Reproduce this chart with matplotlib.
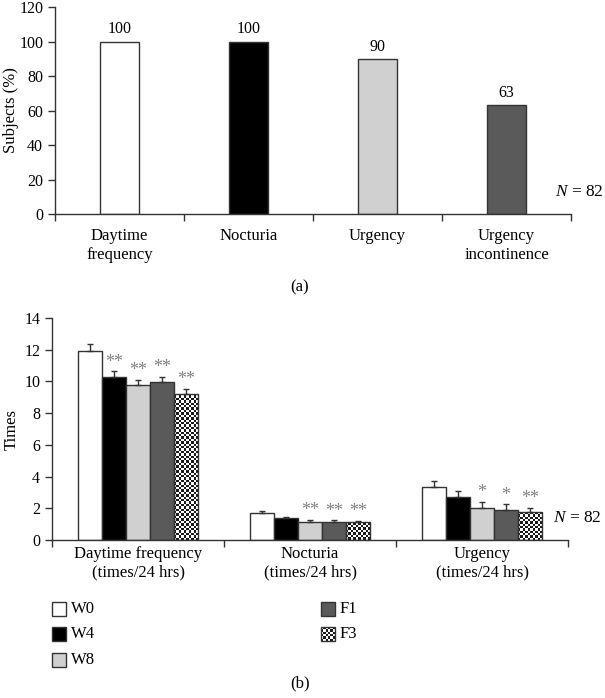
import numpy as np
import matplotlib
matplotlib.use('Agg')
from matplotlib import pyplot as plt
from matplotlib.patches import Rectangle
from matplotlib.colors import ListedColormap

plt.rcParams['font.family'] = ['Liberation Serif', 'DejaVu Serif']
plt.rcParams['mathtext.fontset'] = 'custom'
plt.rcParams['mathtext.rm'] = 'Liberation Serif'
plt.rcParams['mathtext.it'] = 'Liberation Serif:italic'

# (a) share of subjects with each symptom
symptoms = ['Daytime\nfrequency', 'Nocturia', 'Urgency', 'Urgency\nincontinence']
subjects_pct = [100, 100, 90, 63]
symptom_colors = ['white', 'black', '#d0d0d0', '#5a5a5a']

# (b) episodes per 24 hrs at each visit
groups = ['Daytime frequency\n(times/24 hrs)', 'Nocturia\n(times/24 hrs)', 'Urgency\n(times/24 hrs)']
visits = ['W0', 'W4', 'W8', 'F1', 'F3']
w0 = [11.95, 1.68, 3.36]
w4 = [10.27, 1.36, 2.72]
w8 = [9.78, 1.15, 2.03]
f1 = [9.98, 1.15, 1.91]
f3 = [9.22, 1.13, 1.75]
w0_err = [0.42, 0.12, 0.38]
w4_err = [0.36, 0.08, 0.37]
w8_err = [0.30, 0.12, 0.37]
f1_err = [0.33, 0.08, 0.34]
f3_err = [0.30, 0.07, 0.27]
w0_sig = ['', '', '']
w4_sig = ['**', '', '']
w8_sig = ['**', '**', '*']
f1_sig = ['**', '**', '*']
f3_sig = ['**', '**', '**']
visit_colors = ['white', 'black', '#d0d0d0', '#5a5a5a', 'checker']

W, H = 605, 698
EDGE = '#333333'
FS = 12
checker_cmap = ListedColormap(['white', '#1a1a1a'])

fig = plt.figure(figsize=(W / 100, H / 100), dpi=100)


def px_axes(l, t, r, b, **kw):
    return fig.add_axes([l / W, 1 - b / H, (r - l) / W, (b - t) / H], **kw)


def checker(ax, x0, x1, y0, y1, cell_px, clip=None):
    # checkerboard fill, sized from the on-screen size of the box
    p0 = ax.transData.transform((x0, y0))
    p1 = ax.transData.transform((x1, y1))
    nx = max(1, int(round(abs(p1[0] - p0[0]) / cell_px)))
    ny = max(1, int(round(abs(p1[1] - p0[1]) / cell_px)))
    board = np.indices((ny, nx)).sum(0) % 2
    im = ax.imshow(board, extent=(x0, x1, y0, y1), cmap=checker_cmap,
                   interpolation='nearest', aspect='auto', zorder=1.5)
    if clip is not None:
        im.set_clip_path(clip)
    return im


def style_axes(ax):
    for s in ['top', 'right']:
        ax.spines[s].set_visible(False)
    for s in ['left', 'bottom']:
        ax.spines[s].set_color(EDGE)
        ax.spines[s].set_linewidth(1)
    ax.tick_params(axis='both', which='major', length=5, width=1,
                   color=EDGE, labelsize=11.5)


"""
(a)
"""
ax1 = px_axes(55, 7, 571, 214)
x1 = np.arange(len(symptoms))
bars = ax1.bar(x1, subjects_pct, 0.31, color=symptom_colors,
               edgecolor=EDGE, linewidth=1)
ax1.bar_label(bars, padding=3, fontsize=11.5)
ax1.set_xlim(-0.5, len(symptoms) - 0.5)
ax1.set_ylim(0, 120)
ax1.set_yticks(np.arange(0, 121, 20))
ax1.set_xticks(np.arange(-0.5, len(symptoms), 1.0))
ax1.set_xticklabels([])
ax1.set_xticks(x1, symptoms, minor=True)
style_axes(ax1)
ax1.tick_params(axis='x', which='minor', length=0, pad=10, labelsize=FS)
for lab in ax1.get_xticklabels(minor=True):
    lab.set_linespacing(1.25)
ax1.set_ylabel('Subjects (%)', fontsize=FS)
ax1.yaxis.set_label_coords(-0.07, 0.5)

"""
(b)
"""
ax2 = px_axes(52, 318, 568, 540)
x2 = np.arange(len(groups))
bw = 0.14
ax2.set_xlim(-0.5, len(groups) - 0.5)
ax2.set_ylim(0, 14)
series = zip(visits, [w0, w4, w8, f1, f3],
             [w0_err, w4_err, w8_err, f1_err, f3_err],
             [w0_sig, w4_sig, w8_sig, f1_sig, f3_sig], visit_colors)
for i, (name, vals, errs, sig, col) in enumerate(series):
    xs = x2 + (i - 2) * bw
    face = 'none' if col == 'checker' else col
    b = ax2.bar(xs, vals, bw, yerr=[np.zeros(len(vals)), errs], color=face,
                edgecolor=EDGE, linewidth=1, zorder=2,
                error_kw=dict(ecolor=EDGE, elinewidth=1, capsize=2, capthick=1))
    if col == 'checker':
        for p in b.patches:
            checker(ax2, p.get_x(), p.get_x() + p.get_width(), 0, p.get_height(),
                    2.4, clip=p)
    for x, v, e, s in zip(xs, vals, errs, sig):
        if s:
            ax2.text(x, v + e + 0.05, s, ha='center', va='bottom',
                     color='#808080', fontsize=13)
ax2.set_xlim(-0.5, len(groups) - 0.5)
ax2.set_ylim(0, 14)
ax2.set_yticks(np.arange(0, 15, 2))
ax2.set_xticks(np.arange(-0.5, len(groups), 1.0))
ax2.set_xticklabels([])
ax2.set_xticks(x2, groups, minor=True)
style_axes(ax2)
ax2.tick_params(axis='x', which='minor', length=0, pad=4, labelsize=FS)
for lab in ax2.get_xticklabels(minor=True):
    lab.set_linespacing(1.25)
ax2.set_ylabel('Times', fontsize=FS)
ax2.yaxis.set_label_coords(-0.062, 0.5)

"""
legend, panel letters and N
"""
ov = fig.add_axes([0, 0, 1, 1], zorder=5)
ov.set_xlim(0, W)
ov.set_ylim(H, 0)
ov.axis('off')
leg_pos = [(52, 609), (52, 634), (52, 660), (321, 609), (321, 634)]
for (lx, ly), name, col in zip(leg_pos, visits, visit_colors):
    sq = Rectangle((lx, ly - 7), 14, 14, facecolor='none' if col == 'checker' else col,
                   edgecolor=EDGE, linewidth=1, zorder=2)
    ov.add_patch(sq)
    if col == 'checker':
        checker(ov, lx, lx + 14, ly + 7, ly - 7, 2.4, clip=sq)
    ov.text(lx + 19, ly, name, ha='left', va='center', fontsize=FS)
ov.set_xlim(0, W)
ov.set_ylim(H, 0)
ov.text(300, 287, '(a)', ha='center', va='center', fontsize=FS)
ov.text(300, 683, '(b)', ha='center', va='center', fontsize=FS)
ov.text(604, 192, '$N$ = 82', ha='right', va='center', fontsize=12.5)
ov.text(602, 518, '$N$ = 82', ha='right', va='center', fontsize=12.5)

fig.savefig('out.png', dpi=100)
